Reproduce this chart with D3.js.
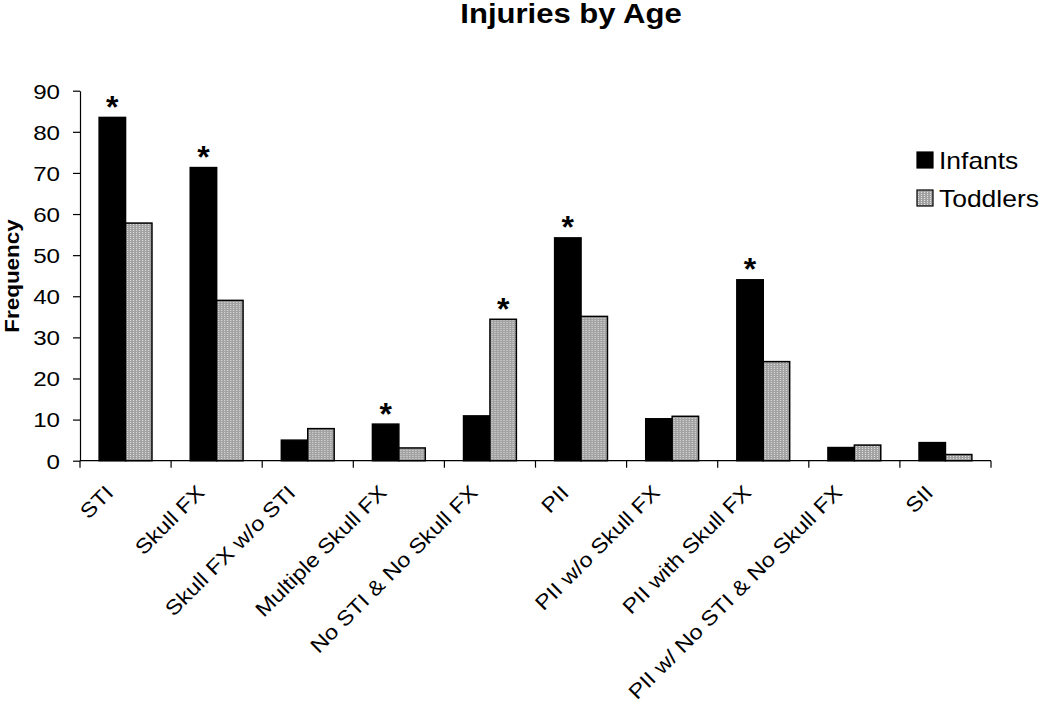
<!DOCTYPE html>
<html>
<head>
<meta charset="utf-8">
<script src="https://cdn.jsdelivr.net/npm/d3@7"></script>
<style>
  body { margin: 0; background: #fff; }
  svg { font-family: "Liberation Sans", Arial, sans-serif; }
</style>
</head>
<body>
<div id="chart"></div>
<script>
const categories = ['STI', 'Skull FX', 'Skull FX w/o STI', 'Multiple Skull FX', 'No STI & No Skull FX',
  'PII', 'PII w/o Skull FX', 'PII with Skull FX', 'PII w/ No STI & No Skull FX', 'SII'];
const series = ['Infants', 'Toddlers'];
const infants = [83.5, 71.3, 5.0, 8.9, 10.9, 54.2, 10.2, 44.0, 3.2, 4.4];
const toddlers = [57.8, 39.0, 7.8, 3.1, 34.4, 35.1, 10.8, 24.1, 3.8, 1.5];
// which series carries the significance star, per category
const starred = ['Infants', 'Infants', null, 'Infants', 'Toddlers', 'Infants', null, 'Infants', null, null];
const yTicks = [0, 10, 20, 30, 40, 50, 60, 70, 80, 90];

const width = 1050;
const height = 710;
const sx = 1.15; // the source text is drawn wider than the font's normal width

const svg = d3.select('#chart')
  .append('svg')
  .attr('width', width)
  .attr('height', height);

const defs = svg.append('defs');
const pat = defs.append('pattern')
  .attr('id', 'dots')
  .attr('patternUnits', 'userSpaceOnUse')
  .attr('width', 3)
  .attr('height', 2);
pat.append('rect').attr('width', 3).attr('height', 2).attr('fill', '#a2a2a2');
pat.append('rect').attr('x', 1).attr('y', 0).attr('width', 1).attr('height', 1).attr('fill', '#e2e2e2');

const fills = { Infants: '#000', Toddlers: 'url(#dots)' };

const x = d3.scaleBand()
  .domain(categories)
  .range([80, 991])
  .paddingInner(0.42)
  .paddingOuter(0.21);
const xSub = d3.scaleBand()
  .domain(series)
  .range([0, x.bandwidth()]);
const y = d3.scaleLinear()
  .domain([0, 90])
  .range([460.7, 90.7]);

const rows = categories.map((c, i) => ({ cat: c, Infants: infants[i], Toddlers: toddlers[i], star: starred[i] }));

// bars
const groups = svg.append('g')
  .selectAll('g')
  .data(rows)
  .enter()
  .append('g')
  .attr('transform', d => `translate(${x(d.cat)},0)`);

groups.selectAll('rect')
  .data(d => series.map(s => ({ s, v: d[s] })))
  .enter()
  .append('rect')
  .attr('x', d => xSub(d.s))
  .attr('y', d => y(d.v))
  .attr('width', xSub.bandwidth())
  .attr('height', d => y(0) - y(d.v))
  .attr('fill', d => fills[d.s])
  .attr('stroke', '#000')
  .attr('stroke-width', 1.5);

// stars
groups.filter(d => d.star)
  .append('text')
  .attr('x', d => xSub(d.star) + xSub.bandwidth() / 2)
  .attr('y', d => y(d[d.star]) + 0.5)
  .attr('text-anchor', 'middle')
  .style('font-size', '32px')
  .style('font-weight', 'bold')
  .text('*');

// y axis
const yAxis = svg.append('g')
  .attr('transform', 'translate(80,0)')
  .call(d3.axisLeft(y).tickValues(yTicks).tickSize(7).tickSizeOuter(0));
yAxis.select('.domain').attr('stroke', '#000').attr('stroke-width', 1.2);
yAxis.selectAll('.tick line').attr('stroke-width', 1.2);
yAxis.selectAll('.tick text')
  .attr('x', -20 / sx)
  .attr('dy', '0.35em')
  .attr('transform', `scale(${sx},1)`)
  .style('font-size', '21px')
  .attr('fill', '#000');

// x axis: baseline plus ticks on the category boundaries
const xa = svg.append('g');
const x0 = x.range()[0];
const x1 = x.range()[1];
xa.append('line')
  .attr('x1', x0).attr('x2', x1)
  .attr('y1', y(0)).attr('y2', y(0))
  .attr('stroke', '#000').attr('stroke-width', 1.2);
xa.selectAll('line.tk')
  .data(d3.range(categories.length + 1))
  .enter()
  .append('line')
  .attr('class', 'tk')
  .attr('x1', i => x0 + i * x.step())
  .attr('x2', i => x0 + i * x.step())
  .attr('y1', y(0))
  .attr('y2', y(0) + 7)
  .attr('stroke', '#000').attr('stroke-width', 1.2);

xa.selectAll('text')
  .data(categories)
  .enter()
  .append('text')
  .attr('transform', c => `translate(${x(c) + x.bandwidth() / 2 - 11},494) rotate(-45) scale(${sx},1)`)
  .attr('text-anchor', 'end')
  .style('font-size', '20.5px')
  .text(c => c);

// title
svg.append('text')
  .attr('transform', `translate(571,23) scale(${sx},1)`)
  .attr('text-anchor', 'middle')
  .style('font-size', '27px')
  .style('font-weight', 'bold')
  .text('Injuries by Age');

// y label
svg.append('text')
  .attr('transform', `translate(18.5,276) rotate(-90) scale(${sx},1)`)
  .attr('text-anchor', 'middle')
  .style('font-size', '19.5px')
  .style('font-weight', 'bold')
  .text('Frequency');

// legend
const legend = svg.append('g')
  .selectAll('g')
  .data(series)
  .enter()
  .append('g')
  .attr('transform', (d, i) => `translate(917,${152 + i * 38})`);
legend.append('rect')
  .attr('width', 16)
  .attr('height', 16)
  .attr('fill', d => fills[d])
  .attr('stroke', '#000')
  .attr('stroke-width', 1.2);
legend.append('text')
  .attr('transform', `translate(22,16.5) scale(${sx},1)`)
  .style('font-size', '23px')
  .text(d => d);
</script>
</body>
</html>
